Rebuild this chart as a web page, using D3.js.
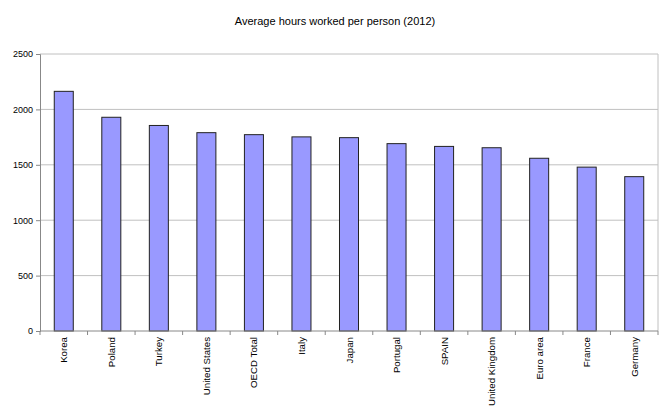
<!DOCTYPE html>
<html>
<head>
<meta charset="utf-8">
<script src="https://cdn.jsdelivr.net/npm/d3@7"></script>
<style>
  body { margin: 0; background: #fff; }
  text { font-family: "Liberation Sans", Arial, sans-serif; }
</style>
</head>
<body>
<script>
// values
const countries = ['Korea', 'Poland', 'Turkey', 'United States', 'OECD Total', 'Italy', 'Japan',
    'Portugal', 'SPAIN', 'United Kingdom', 'Euro area', 'France', 'Germany'];
const hours = [2163, 1929, 1855, 1790, 1772, 1752, 1745, 1691, 1666, 1654, 1559, 1479, 1393];
const yTicks = [0, 500, 1000, 1500, 2000, 2500];

const width = 670;
const height = 417;
const margin = { top: 54, right: 12, bottom: 86, left: 40 };

const svg = d3.select('body')
    .append('svg')
    .attr('width', width)
    .attr('height', height);

const x = d3.scaleBand()
    .domain(countries)
    .range([margin.left, width - margin.right])
    .paddingInner(0.6)
    .paddingOuter(0.3);

const y = d3.scaleLinear()
    .domain([0, 2500])
    .range([height - margin.bottom, margin.top]);

// title
svg.append('text')
    .attr('x', 335)
    .attr('y', 25)
    .attr('text-anchor', 'middle')
    .style('font-size', '11px')
    .text('Average hours worked per person (2012)');

// gridlines
svg.append('g')
    .selectAll('line')
    .data(yTicks.slice(1))
    .enter()
    .append('line')
    .attr('x1', margin.left)
    .attr('x2', width - margin.right)
    .attr('y1', d => y(d))
    .attr('y2', d => y(d))
    .style('stroke', '#c0c0c0')
    .style('stroke-width', 1);

// right border of the plot
svg.append('line')
    .attr('x1', width - margin.right)
    .attr('x2', width - margin.right)
    .attr('y1', margin.top)
    .attr('y2', height - margin.bottom)
    .style('stroke', '#c0c0c0');

// bars
svg.append('g')
    .selectAll('rect')
    .data(countries)
    .enter()
    .append('rect')
    .attr('x', d => x(d))
    .attr('y', (d, i) => y(hours[i]))
    .attr('width', x.bandwidth())
    .attr('height', (d, i) => y(0) - y(hours[i]))
    .style('fill', '#9999ff')
    .style('stroke', '#222')
    .style('stroke-width', 1);

// y axis
const yAxis = svg.append('g')
    .attr('transform', `translate(${margin.left},0)`)
    .call(d3.axisLeft(y).tickValues(yTicks).tickFormat(d3.format('d')).tickSize(4).tickPadding(3));
yAxis.select('.domain').style('stroke', '#888');
yAxis.selectAll('.tick line').style('stroke', '#888');
yAxis.selectAll('text').style('font-size', '9px').style('fill', '#000');

// x axis with ticks between the categories
const xAxis = svg.append('g')
    .attr('transform', `translate(0,${y(0)})`);
xAxis.append('line')
    .attr('x1', margin.left)
    .attr('x2', width - margin.right)
    .style('stroke', '#888');
const sepX = i => margin.left + i * (width - margin.left - margin.right) / countries.length;
xAxis.selectAll('line.sep')
    .data(d3.range(countries.length + 1))
    .enter()
    .append('line')
    .attr('class', 'sep')
    .attr('x1', sepX)
    .attr('x2', sepX)
    .attr('y1', 0)
    .attr('y2', 4)
    .style('stroke', '#888');
xAxis.selectAll('text')
    .data(countries)
    .enter()
    .append('text')
    .attr('transform', d => `translate(${x(d) + x.bandwidth() / 2 + 3.5},6) rotate(-90)`)
    .attr('text-anchor', 'end')
    .style('font-size', '9.7px')
    .text(d => d);
</script>
</body>
</html>
